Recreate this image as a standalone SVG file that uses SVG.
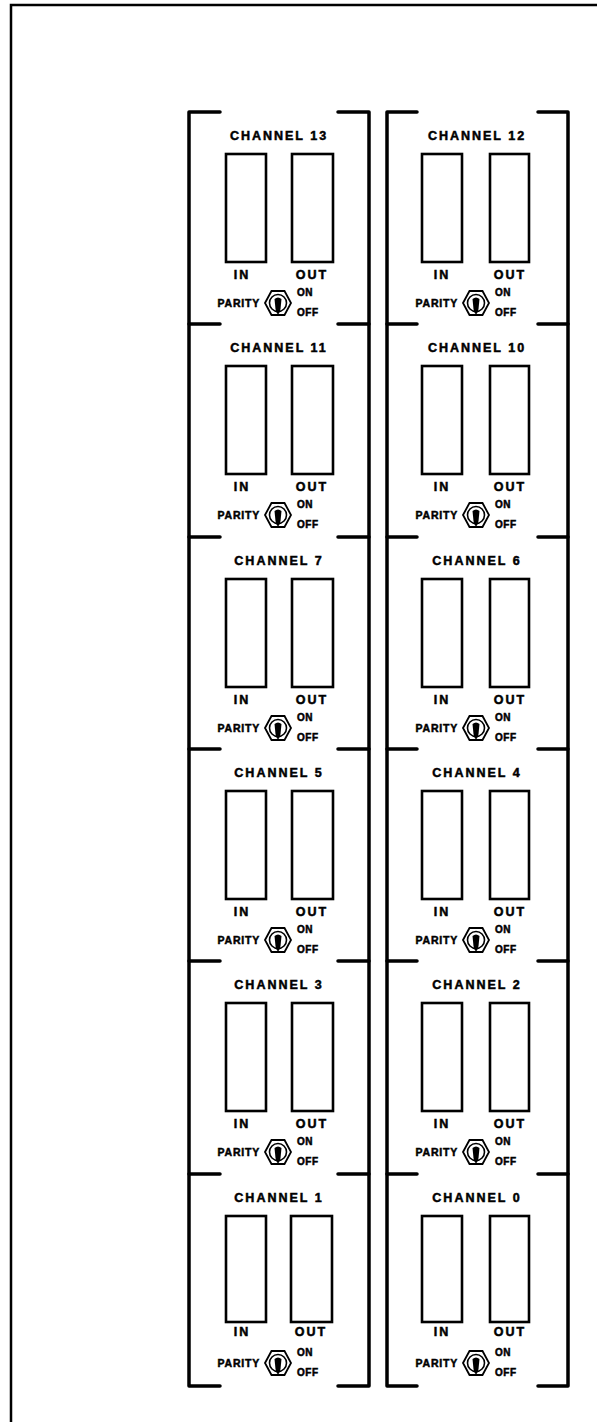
<svg xmlns="http://www.w3.org/2000/svg" xmlns:xlink="http://www.w3.org/1999/xlink" width="597" height="1422" viewBox="0 0 597 1422">
<style>
.frame{fill:none;stroke:#000;stroke-width:2.5}
.br{fill:none;stroke:#000;stroke-width:3.5;stroke-linecap:round;stroke-linejoin:round}
.jack{fill:#fff;stroke:#000;stroke-width:2.6}
.t{font-family:"Liberation Sans",Arial,sans-serif;font-weight:bold;fill:#000;stroke:#000;stroke-width:0.5}
.title{font-size:12.5px;letter-spacing:2px;text-anchor:middle}
.io{font-size:12.5px;letter-spacing:2px;text-anchor:middle}
.par{font-size:10.5px;letter-spacing:0.8px;text-anchor:end}
.sw{font-size:10px;letter-spacing:0.5px}
.hex{fill:#fff;stroke:#000;stroke-width:1.8}
.ring{fill:none;stroke:#000;stroke-width:1.6}
</style>
<defs>
<g id="toggle">
<polygon class="hex" points="-13,0 -6.5,-12 6.5,-12 13,0 6.5,12 -6.5,12"/>
<circle class="ring" cx="0" cy="0" r="8.5"/>
<path d="M-3.5,-4 Q0,-7 3.5,-4 L2.5,6 Q1.5,11 0,11 Q-1.5,11 -2.5,6 Z" fill="#000"/>
</g>
</defs>
<rect width="597" height="1422" fill="#fff"/>
<g id="outer-frame">
<path class="frame" d="M11,1422 V5 H597"/>
</g>
<g id="brackets">
<path class="br" d="M220,112 H189 V1386 H220"/>
<path class="br" d="M338,112 H369 V1386 H338"/>
<path class="br" d="M417,112 H387 V1386 H417"/>
<path class="br" d="M538,112 H568 V1386 H538"/>
<path class="br" d="M189,324 H220 M189,537 H220 M189,749 H220 M189,961 H220 M189,1174 H220"/>
<path class="br" d="M338,324 H369 M338,537 H369 M338,749 H369 M338,961 H369 M338,1174 H369"/>
<path class="br" d="M387,324 H417 M387,537 H417 M387,749 H417 M387,961 H417 M387,1174 H417"/>
<path class="br" d="M538,324 H568 M538,537 H568 M538,749 H568 M538,961 H568 M538,1174 H568"/>
</g>
<g id="ch13" transform="translate(279,112)">
<text class="t title" x="0" y="28">CHANNEL 13</text>
<rect class="jack" x="-53" y="42" width="40" height="108"/><rect class="jack" x="13" y="42" width="41" height="108"/>
<text class="t io" x="-37" y="167">IN</text><text class="t io" x="33" y="167">OUT</text>
<text class="t par" x="-19" y="195">PARITY</text><use xlink:href="#toggle" x="-1" y="191"/>
<text class="t sw" x="18" y="184">ON</text><text class="t sw" x="18" y="204">OFF</text>
</g>
<g id="ch12" transform="translate(477,112)">
<text class="t title" x="0" y="28">CHANNEL 12</text>
<rect class="jack" x="-55" y="42" width="40" height="108"/><rect class="jack" x="13" y="42" width="39" height="108"/>
<text class="t io" x="-35" y="167">IN</text><text class="t io" x="33" y="167">OUT</text>
<text class="t par" x="-19" y="195">PARITY</text><use xlink:href="#toggle" x="-1" y="191"/>
<text class="t sw" x="18" y="184">ON</text><text class="t sw" x="18" y="204">OFF</text>
</g>
<g id="ch11" transform="translate(279,324)">
<text class="t title" x="0" y="28">CHANNEL 11</text>
<rect class="jack" x="-53" y="42" width="40" height="108"/><rect class="jack" x="13" y="42" width="41" height="108"/>
<text class="t io" x="-37" y="167">IN</text><text class="t io" x="33" y="167">OUT</text>
<text class="t par" x="-19" y="195">PARITY</text><use xlink:href="#toggle" x="-1" y="191"/>
<text class="t sw" x="18" y="184">ON</text><text class="t sw" x="18" y="204">OFF</text>
</g>
<g id="ch10" transform="translate(477,324)">
<text class="t title" x="0" y="28">CHANNEL 10</text>
<rect class="jack" x="-55" y="42" width="40" height="108"/><rect class="jack" x="13" y="42" width="39" height="108"/>
<text class="t io" x="-35" y="167">IN</text><text class="t io" x="33" y="167">OUT</text>
<text class="t par" x="-19" y="195">PARITY</text><use xlink:href="#toggle" x="-1" y="191"/>
<text class="t sw" x="18" y="184">ON</text><text class="t sw" x="18" y="204">OFF</text>
</g>
<g id="ch7" transform="translate(279,537)">
<text class="t title" x="0" y="28">CHANNEL 7</text>
<rect class="jack" x="-53" y="42" width="40" height="108"/><rect class="jack" x="13" y="42" width="41" height="108"/>
<text class="t io" x="-37" y="167">IN</text><text class="t io" x="33" y="167">OUT</text>
<text class="t par" x="-19" y="195">PARITY</text><use xlink:href="#toggle" x="-1" y="191"/>
<text class="t sw" x="18" y="184">ON</text><text class="t sw" x="18" y="204">OFF</text>
</g>
<g id="ch6" transform="translate(477,537)">
<text class="t title" x="0" y="28">CHANNEL 6</text>
<rect class="jack" x="-55" y="42" width="40" height="108"/><rect class="jack" x="13" y="42" width="39" height="108"/>
<text class="t io" x="-35" y="167">IN</text><text class="t io" x="33" y="167">OUT</text>
<text class="t par" x="-19" y="195">PARITY</text><use xlink:href="#toggle" x="-1" y="191"/>
<text class="t sw" x="18" y="184">ON</text><text class="t sw" x="18" y="204">OFF</text>
</g>
<g id="ch5" transform="translate(279,749)">
<text class="t title" x="0" y="28">CHANNEL 5</text>
<rect class="jack" x="-53" y="42" width="40" height="108"/><rect class="jack" x="13" y="42" width="41" height="108"/>
<text class="t io" x="-37" y="167">IN</text><text class="t io" x="33" y="167">OUT</text>
<text class="t par" x="-19" y="195">PARITY</text><use xlink:href="#toggle" x="-1" y="191"/>
<text class="t sw" x="18" y="184">ON</text><text class="t sw" x="18" y="204">OFF</text>
</g>
<g id="ch4" transform="translate(477,749)">
<text class="t title" x="0" y="28">CHANNEL 4</text>
<rect class="jack" x="-55" y="42" width="40" height="108"/><rect class="jack" x="13" y="42" width="39" height="108"/>
<text class="t io" x="-35" y="167">IN</text><text class="t io" x="33" y="167">OUT</text>
<text class="t par" x="-19" y="195">PARITY</text><use xlink:href="#toggle" x="-1" y="191"/>
<text class="t sw" x="18" y="184">ON</text><text class="t sw" x="18" y="204">OFF</text>
</g>
<g id="ch3" transform="translate(279,961)">
<text class="t title" x="0" y="28">CHANNEL 3</text>
<rect class="jack" x="-53" y="42" width="40" height="108"/><rect class="jack" x="13" y="42" width="41" height="108"/>
<text class="t io" x="-37" y="167">IN</text><text class="t io" x="33" y="167">OUT</text>
<text class="t par" x="-19" y="195">PARITY</text><use xlink:href="#toggle" x="-1" y="191"/>
<text class="t sw" x="18" y="184">ON</text><text class="t sw" x="18" y="204">OFF</text>
</g>
<g id="ch2" transform="translate(477,961)">
<text class="t title" x="0" y="28">CHANNEL 2</text>
<rect class="jack" x="-55" y="42" width="40" height="108"/><rect class="jack" x="13" y="42" width="39" height="108"/>
<text class="t io" x="-35" y="167">IN</text><text class="t io" x="33" y="167">OUT</text>
<text class="t par" x="-19" y="195">PARITY</text><use xlink:href="#toggle" x="-1" y="191"/>
<text class="t sw" x="18" y="184">ON</text><text class="t sw" x="18" y="204">OFF</text>
</g>
<g id="ch1" transform="translate(279,1174)">
<text class="t title" x="0" y="28">CHANNEL 1</text>
<rect class="jack" x="-53" y="42" width="40" height="106"/><rect class="jack" x="12" y="42" width="41" height="106"/>
<text class="t io" x="-37" y="162">IN</text><text class="t io" x="32" y="162">OUT</text>
<text class="t par" x="-19" y="193">PARITY</text><use xlink:href="#toggle" x="-1" y="189"/>
<text class="t sw" x="18" y="182">ON</text><text class="t sw" x="18" y="202">OFF</text>
</g>
<g id="ch0" transform="translate(477,1174)">
<text class="t title" x="0" y="28">CHANNEL 0</text>
<rect class="jack" x="-55" y="42" width="40" height="106"/><rect class="jack" x="13" y="42" width="39" height="106"/>
<text class="t io" x="-35" y="162">IN</text><text class="t io" x="33" y="162">OUT</text>
<text class="t par" x="-19" y="193">PARITY</text><use xlink:href="#toggle" x="-1" y="189"/>
<text class="t sw" x="18" y="182">ON</text><text class="t sw" x="18" y="202">OFF</text>
</g>
</svg>
